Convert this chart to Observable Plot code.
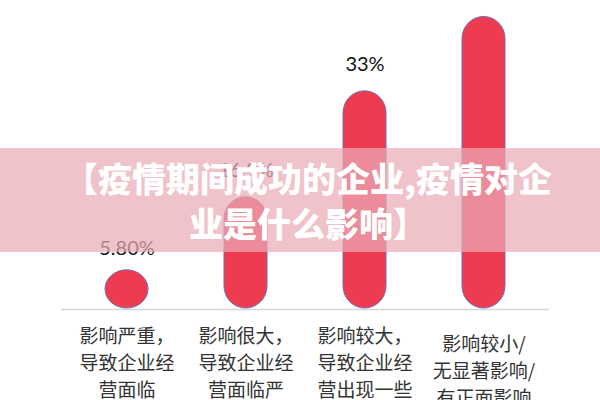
<!DOCTYPE html>
<html>
<head>
<meta charset="utf-8">
<script src="https://cdn.jsdelivr.net/npm/d3@7"></script>
<script src="https://cdn.jsdelivr.net/npm/@observablehq/plot@0.6"></script>
<style>
  html, body { margin: 0; padding: 0; background: #fff; }
  #wrap { position: relative; width: 600px; height: 400px; overflow: hidden; }
  #banner {
    position: absolute; left: 0; top: 148px; width: 600px; height: 104px;
    box-sizing: border-box; padding-left: 16px;
    background: rgba(234, 170, 182, 0.72);
    display: flex; align-items: center; justify-content: center;
    color: #fff; font-family: "Noto Sans CJK SC", sans-serif; font-weight: 900;
    font-size: 34px; line-height: 45px; text-align: center; letter-spacing: 0px;
  }
</style>
</head>
<body>
<div id="wrap">
  <div id="chart"></div>
  <div id="banner"><div>【疫情期间成功的企业,疫情对企<br>业是什么影响】</div></div>
</div>
<script>
const categories = ["c1", "c2", "c3", "c4"];
const values = [5.8, 16.9, 33, 44.3];
const valueLabels = ["5.80%", "16.9%", "33%", "44.3%"];
const categoryLabels = [
  "影响严重，\n导致企业经\n营面临",
  "影响很大，\n导致企业经\n营面临严",
  "影响较大，\n导致企业经\n营出现一些",
  "影响较小/\n无显著影响/\n有正面影响"
];

const data = categories.map((c, i) => ({
  cat: c, value: values[i], vlabel: valueLabels[i], clabel: categoryLabels[i], idx: i
}));

const labelFont = "'Noto Sans CJK SC', sans-serif";

const chart = Plot.plot({
  width: 600,
  height: 400,
  marginLeft: 61,
  marginRight: 51,
  marginTop: 0,
  marginBottom: 92,
  x: { domain: categories, paddingInner: 0.64, paddingOuter: 0.36, axis: null },
  y: { domain: [0, 46.8], axis: null },
  style: { background: "transparent" },
  marks: [
    Plot.ruleY([0], { stroke: "#d6d6d6", strokeWidth: 1.5, dy: 1 }),
    Plot.barY(data, {
      x: "cat", y: "value", fill: "#ef3b50", stroke: "#6c6fae", strokeWidth: 1, rx: 22
    }),
    Plot.text(data.filter(d => d.idx === 0), {
      x: "cat", y: "value", text: "vlabel", lineAnchor: "bottom", dy: -15,
      fontFamily: "Lato, sans-serif", fontSize: 20, fill: "#111"
    }),
    Plot.text(data.filter(d => d.idx > 0), {
      x: "cat", y: "value", text: "vlabel", lineAnchor: "bottom", dy: -20,
      fontFamily: "Lato, sans-serif", fontSize: 20, fill: "#111"
    }),
    Plot.text(data.filter(d => d.idx < 3), {
      x: "cat", y: 0, text: "clabel", lineAnchor: "top", dy: 15, lineHeight: 1.42,
      fontFamily: labelFont, fontSize: 19, fill: "#333"
    }),
    Plot.text(data.filter(d => d.idx === 3), {
      x: "cat", y: 0, text: "clabel", lineAnchor: "top", dy: 23, lineHeight: 1.42,
      fontFamily: labelFont, fontSize: 19, fill: "#333"
    })
  ]
});
document.getElementById("chart").appendChild(chart);
</script>
</body>
</html>
